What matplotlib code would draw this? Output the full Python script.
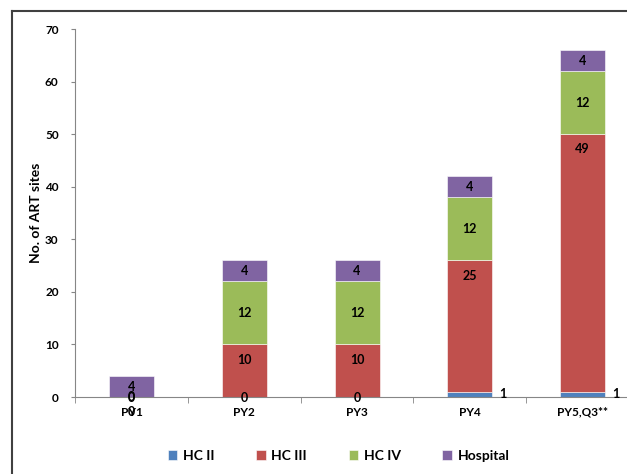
import matplotlib
matplotlib.use("Agg")
import matplotlib.pyplot as plt
import matplotlib.transforms as mtransforms
from matplotlib.lines import Line2D
import numpy as np

plt.rcParams['font.family'] = ['Lato', 'DejaVu Sans']
plt.rcParams['font.weight'] = 'bold'

# data
years = ["PY1", "PY2", "PY3", "PY4", "PY5,Q3**"]
hc2 = [0, 0, 0, 1, 1]
hc3 = [0, 10, 10, 25, 49]
hc4 = [0, 12, 12, 12, 12]
hospital = [4, 4, 4, 4, 4]
series_names = ["HC II", "HC III", "HC IV", "Hospital"]
colors = ["#4F81BD", "#C0504D", "#9BBB59", "#8064A2"]

fig = plt.figure(figsize=(6.27, 4.74), dpi=100)
ax = fig.add_axes([0.12, 0.1624, 0.899, 0.7764])

x = np.arange(len(years))
w = 0.4
series = [hc2, hc3, hc4, hospital]
bottom = np.zeros(len(years))
bars = []
for vals, name, c in zip(series, series_names, colors):
    b = ax.bar(x, vals, w, bottom=bottom, color=c, label=name,
               edgecolor="white", linewidth=0.4)
    bars.append((np.array(vals), bottom.copy()))
    bottom += np.array(vals)

# data labels
off = lambda dx, dy: mtransforms.offset_copy(ax.transData, fig=fig, x=dx, y=dy, units='points')
fs = 9
# HC II: zero labels at the base, non-zero ones beside the bar
vals, bot = bars[0]
for i, v in enumerate(vals):
    if v == 0:
        ax.text(x[i], 0, str(v), ha='center', va='center', fontsize=fs,
                transform=off(0, -1))
    else:
        ax.text(x[i] + w / 2, bot[i] + v / 2, str(v), ha='left', va='center',
                fontsize=fs, transform=off(5, 0))
# HC III: near the top of the segment
vals, bot = bars[1]
for i, v in enumerate(vals):
    ax.text(x[i], bot[i] + v, str(v), ha='center', va='center', fontsize=fs,
            transform=off(0, -11))
# HC IV and Hospital: centred
for vals, bot in bars[2:]:
    for i, v in enumerate(vals):
        ax.text(x[i], bot[i] + v / 2, str(v), ha='center', va='center', fontsize=fs)

ax.set_ylim(0, 70)
ax.set_yticks(range(0, 71, 10))
ax.set_xlim(-0.5, len(years) - 0.5)
ax.set_xticks(x)
ax.set_xticklabels(years)
ax.set_xticks(np.arange(-0.5, len(years), 1), minor=True)
ax.tick_params(axis='x', which='major', length=0, pad=7, labelsize=8.5)
ax.tick_params(axis='x', which='minor', length=4, color="#868686")
ax.tick_params(axis='y', length=3, color="#868686", labelsize=8.5, pad=9)
for s in ['top', 'right']:
    ax.spines[s].set_visible(False)
for s in ['left', 'bottom']:
    ax.spines[s].set_color("#868686")
    ax.spines[s].set_linewidth(0.8)

ax.set_ylabel("No. of ART sites", fontsize=10, fontweight='bold', labelpad=2)

leg = fig.legend(loc='center', bbox_to_anchor=(0.54, 0.038), ncol=4, frameon=False,
                 fontsize=10, handlelength=0.7, handleheight=0.7,
                 columnspacing=3.0, handletextpad=0.4)

# outer frame of the chart area
fig.add_artist(Line2D([0.019, 1.0], [0.977, 0.977], color="#404040", lw=1.5,
                      transform=fig.transFigure))
fig.add_artist(Line2D([0.019, 0.019], [0.0, 0.977], color="#404040", lw=1.5,
                      transform=fig.transFigure))

fig.savefig("out.png", dpi=100)
